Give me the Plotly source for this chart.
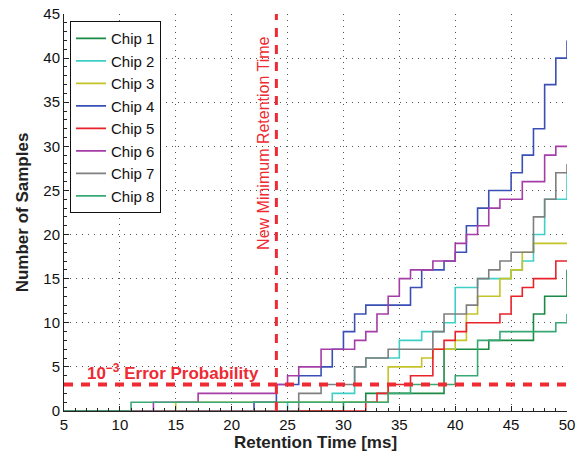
import plotly.graph_objects as go

# ---- data (step change points: retention time [ms], cumulative samples) ----
chip_names = ["Chip 1", "Chip 2", "Chip 3", "Chip 4", "Chip 5", "Chip 6", "Chip 7", "Chip 8"]

chip1_t = [5, 30, 32, 39, 43, 47, 48, 50]
chip1_n = [0, 1, 2, 7, 8, 11, 13, 16]

chip2_t = [5, 25, 29, 31, 32, 35, 37, 39, 40, 42, 45, 46, 47, 48, 50]
chip2_n = [0, 1, 2, 5, 6, 8, 9, 10, 14, 15, 16, 17, 20, 24, 27]

chip3_t = [5, 15, 34, 37, 38, 40, 41, 42, 44, 45, 46, 47, 50]
chip3_n = [0, 1, 5, 6, 7, 8, 11, 13, 15, 16, 18, 19, 19]

chip4_t = [5, 22, 24, 26, 28, 29, 30, 31, 32, 36, 37, 39, 40, 41, 42, 43, 45, 46, 47, 48, 49, 50]
chip4_n = [0, 1, 3, 4, 5, 7, 9, 11, 12, 14, 16, 17, 18, 21, 23, 25, 27, 29, 32, 37, 40, 42]

chip5_t = [5, 32, 33, 34, 36, 38, 39, 40, 41, 44, 45, 46, 47, 49, 50]
chip5_n = [0, 1, 2, 3, 4, 7, 8, 9, 10, 11, 13, 14, 15, 17, 17]

chip6_t = [5, 13, 17, 24, 25, 26, 28, 31, 32, 33, 34, 35, 36, 38, 40, 41, 42, 43, 44, 46, 48, 49, 50]
chip6_n = [0, 1, 2, 3, 4, 5, 7, 8, 9, 11, 13, 15, 16, 17, 19, 20, 21, 23, 24, 26, 29, 30, 30]

chip7_t = [5, 26, 28, 31, 32, 34, 38, 39, 41, 42, 43, 44, 45, 47, 48, 49, 50]
chip7_n = [0, 2, 3, 5, 6, 7, 9, 11, 12, 15, 16, 17, 18, 22, 24, 27, 28]

chip8_t = [5, 11, 34, 36, 40, 42, 44, 49, 50]
chip8_n = [0, 1, 2, 3, 4, 8, 9, 10, 11]

error_threshold = 3          # samples at 10^-3 error probability
new_min_retention = 24       # ms

x_ticks = [5, 10, 15, 20, 25, 30, 35, 40, 45, 50]
y_ticks = [0, 5, 10, 15, 20, 25, 30, 35, 40, 45]

series_t = [chip1_t, chip2_t, chip3_t, chip4_t, chip5_t, chip6_t, chip7_t, chip8_t]
series_n = [chip1_n, chip2_n, chip3_n, chip4_n, chip5_n, chip6_n, chip7_n, chip8_n]
colors = ["#1b8a45", "#3fcfc6", "#c4c428", "#3a4fb5", "#e8232b", "#a63ca6", "#7f7f7f", "#3aa874"]

FONT = "Arial"
RED = "#ee2a33"

fig = go.Figure()
for name, t, n, c in zip(chip_names, series_t, series_n, colors):
    fig.add_trace(go.Scatter(x=t, y=n, name=name, mode="lines",
                             line=dict(color=c, width=1.6, shape="hv")))

# threshold lines
fig.add_shape(type="line", xref="x", yref="y", x0=5, x1=50,
              y0=error_threshold, y1=error_threshold,
              line=dict(color=RED, width=4, dash="9px,8px"))
fig.add_shape(type="line", xref="x", yref="y", x0=new_min_retention, x1=new_min_retention,
              y0=0, y1=45, line=dict(color=RED, width=3, dash="9px,8px"))

fig.add_annotation(x=6.9, y=4.4, xref="x", yref="y", xanchor="left", yanchor="middle",
                   text="<b>10<sup>−3</sup> Error Probability</b>", showarrow=False,
                   font=dict(family=FONT, size=17, color=RED))
fig.add_annotation(x=22.9, y=30.4, xref="x", yref="y", xanchor="center", yanchor="middle",
                   text="New Minimum Retention Time", textangle=-90, showarrow=False,
                   font=dict(family=FONT, size=16, color=RED))

axis_common = dict(
    showline=True, linecolor="#222", linewidth=1, mirror=False,
    ticks="inside", ticklen=5, tickcolor="#222",
    showgrid=True, gridcolor="#555", gridwidth=1, griddash="1px,5px",
    zeroline=False, tickfont=dict(family=FONT, size=15, color="#111"),
)

fig.update_xaxes(range=[5, 50], tickvals=x_ticks,
                 minor=dict(dtick=1, tick0=5, ticks="inside", ticklen=3, tickcolor="#222", showgrid=False),
                 title=dict(text="<b>Retention Time [ms]</b>", standoff=4,
                            font=dict(family=FONT, size=17, color="#222")),
                 **axis_common)
fig.update_yaxes(range=[0, 45], tickvals=y_ticks,
                 minor=dict(dtick=1, tick0=0, ticks="inside", ticklen=3, tickcolor="#222", showgrid=False),
                 title=dict(text="<b>Number of Samples</b>", standoff=10,
                            font=dict(family=FONT, size=17, color="#222")),
                 **axis_common)

fig.update_layout(
    width=583, height=458,
    margin=dict(l=64, r=16, t=14, b=47, autoexpand=False),
    plot_bgcolor="white", paper_bgcolor="white",
    font=dict(family=FONT, size=15, color="#111"),
    legend=dict(x=0.012, y=0.982, xanchor="left", yanchor="top",
                bgcolor="white", bordercolor="#111", borderwidth=1,
                font=dict(family=FONT, size=15, color="#111")),
)

fig.write_html("out.html", config={"displayModeBar": False},
               post_script="document.body.style.margin='0px';")
